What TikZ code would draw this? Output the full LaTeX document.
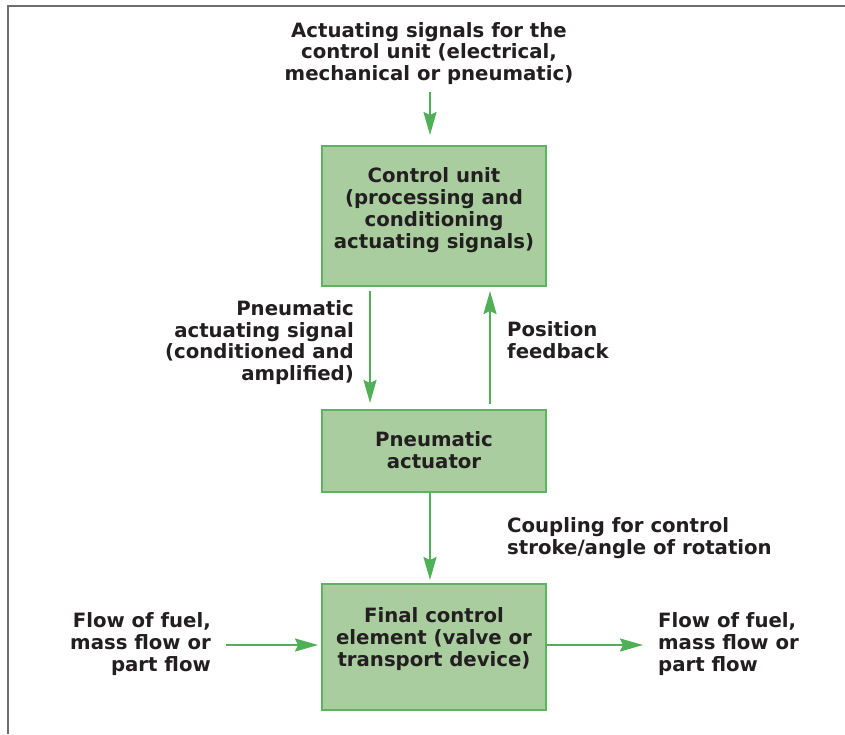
\documentclass[tikz,border=0pt]{standalone}
\usepackage{fontspec}
\setmainfont{DejaVu Sans}
\usetikzlibrary{arrows.meta}
\definecolor{boxfill}{RGB}{169,205,158}
\definecolor{boxline}{RGB}{92,180,96}
\definecolor{arrowgreen}{RGB}{80,176,86}
\definecolor{txtcol}{RGB}{35,31,32}
\definecolor{framegray}{RGB}{110,110,112}
\begin{document}
\begin{tikzpicture}[x=1pt,y=-1pt,
  box/.style={draw=boxline, fill=boxfill, line width=2pt, minimum width=224pt, inner sep=0pt},
  lbl/.style={font=\bfseries\fontsize{19.7}{21.8}\selectfont, text=txtcol, inner sep=0pt},
  arr/.style={draw=arrowgreen, line width=2pt, -{Stealth[length=23pt,width=13pt,inset=3pt]}},
  frameline/.style={draw=framegray, line width=2pt}]
\useasboundingbox (0,0) rectangle (845,734);
\fill[white] (0,0) rectangle (845,734);
\draw[frameline] (8,734) -- (8,6) -- (845,6);

% boxes
\node[box, minimum height=140pt] (cu) at (434,216) {};
\node[box, minimum height=82pt] (act) at (434,451) {};
\node[box, minimum height=126pt] (fce) at (434,647) {};

% texts
\node[lbl, align=center] (toptext) at (429,53.5) {Actuating signals for the\\control unit (electrical,\\mechanical or pneumatic)};
\node[lbl, align=center] (cutext) at (434,210) {Control unit\\(processing and\\conditioning\\actuating signals)};
\node[lbl, align=center] (acttext) at (434,450) {Pneumatic\\actuator};
\node[lbl, align=center] (fcetext) at (434,639) {Final control\\element (valve or\\transport device)};
\node[lbl, align=right, anchor=east] (sigtext) at (354,342.5) {Pneumatic\\actuating signal\\(conditioned and\\amplified)};
\node[lbl, align=left, anchor=west] (fbtext) at (507,340) {Position\\feedback};
\node[lbl, align=left, anchor=west] (cptext) at (507,538) {Coupling for control\\stroke/angle of rotation};
\node[lbl, align=right, anchor=east] (flowin) at (211,644) {Flow of fuel,\\mass flow or\\part flow};
\node[lbl, align=left, anchor=west] (flowout) at (658,644) {Flow of fuel,\\mass flow or\\part flow};

% connectors
\coordinate (topin) at (430,92);
\draw[arr, shorten >=10pt] (topin) -- (topin |- cu.north);
\draw[arr, shorten <=4pt, shorten >=6pt] ([xshift=-64pt]cu.south) -- ([xshift=-64pt]act.north);
\draw[arr, shorten <=5pt, shorten >=4pt] ([xshift=56pt]act.north) -- ([xshift=56pt]cu.south);
\draw[arr, shorten >=3pt] ([xshift=-4pt]act.south) -- ([xshift=-4pt]fce.north);
\coordinate (lin) at (226,645);
\draw[arr, shorten >=3pt] (lin) -- (lin -| fce.west);
\coordinate (rout) at (643,645);
\draw[arr] ([yshift=2pt]fce.east) -- (rout);
\end{tikzpicture}
\end{document}
